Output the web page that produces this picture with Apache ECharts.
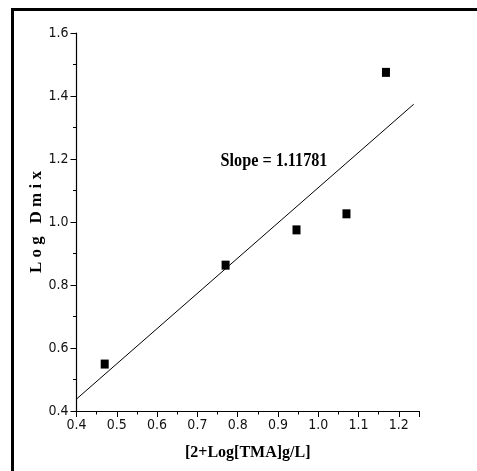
<!DOCTYPE html>
<html>
<head>
<meta charset="utf-8">
<script src="https://cdn.jsdelivr.net/npm/echarts@6/dist/echarts.min.js"></script>
<style>
  html, body { margin: 0; padding: 0; background: #fff; }
  #chart { width: 477px; height: 471px; }
</style>
</head>
<body>
<div id="chart"></div>
<script>
// Measured points: x = 2 + log[TMA] (g/L), y = log Dmix
const xValues = [0.47, 0.77, 0.946, 1.07, 1.168];
const yValues = [0.549, 0.863, 0.975, 1.026, 1.475];

// Least-squares line end points (slope 1.11781)
const fitX = [0.4, 1.237];
const fitY = [0.438, 1.374];

const slopeText = 'Slope = 1.11781';
const xTitle = '[2+Log[TMA]g/L]';
const yTitle = 'L o g   D m i x';

const tickFont = '"Liberation Sans Narrow", "DejaVu Sans Condensed", "Liberation Sans", sans-serif';
const titleFont = '"Liberation Serif", "DejaVu Serif", serif';

const chart = echarts.init(document.getElementById('chart'), null, { renderer: 'canvas' });

const axisCommon = {
  axisLine: { show: true, lineStyle: { color: '#000', width: 1.2 } },
  axisTick: { show: true, inside: false, length: 6, lineStyle: { color: '#000', width: 1 } },
  minorTick: { show: true, splitNumber: 2, length: 3.5, lineStyle: { color: '#000', width: 1 } },
  splitLine: { show: false },
  axisLabel: {
    color: '#111',
    fontFamily: tickFont,
    fontSize: 14,
    formatter: v => v.toFixed(1)
  }
};

chart.setOption({
  animation: false,
  backgroundColor: '#fff',
  grid: { left: 76.5, right: 58, top: 33, bottom: 60 },
  xAxis: Object.assign({}, axisCommon, {
    type: 'value',
    min: 0.4,
    max: 1.25,
    interval: 0.1,
    axisLabel: Object.assign({}, axisCommon.axisLabel, { margin: 7, showMaxLabel: false }),
    name: xTitle,
    nameLocation: 'middle',
    nameGap: 34,
    nameMoveOverlap: false,
    nameTextStyle: { fontFamily: titleFont, fontWeight: 'bold', fontSize: 16, color: '#000' }
  }),
  yAxis: Object.assign({}, axisCommon, {
    type: 'value',
    min: 0.4,
    max: 1.6,
    interval: 0.2,
    axisLabel: Object.assign({}, axisCommon.axisLabel, { margin: 8 }),
    name: yTitle,
    nameLocation: 'middle',
    nameGap: 31,
    nameMoveOverlap: false,
    nameTextStyle: { fontFamily: titleFont, fontWeight: 'bold', fontSize: 17, color: '#000' }
  }),
  series: [
    {
      type: 'line',
      data: fitX.map((x, i) => [x, fitY[i]]),
      showSymbol: false,
      lineStyle: { color: '#000', width: 1 },
      z: 2
    },
    {
      type: 'scatter',
      data: xValues.map((x, i) => [x, yValues[i]]),
      symbol: 'rect',
      symbolSize: [8, 9],
      itemStyle: { color: '#000', opacity: 1 },
      z: 3
    }
  ],
  graphic: [
    // frame lines along the top and left edges
    { type: 'line', shape: { x1: 11, y1: 9.5, x2: 477, y2: 9.5 }, style: { stroke: '#000', lineWidth: 3 } },
    { type: 'line', shape: { x1: 12.5, y1: 8, x2: 12.5, y2: 471 }, style: { stroke: '#000', lineWidth: 3 } },
    {
      type: 'text',
      x: 274,
      y: 161,
      scaleX: 0.9,
      style: {
        text: slopeText,
        fontFamily: titleFont,
        fontWeight: 'bold',
        fontSize: 18,
        fill: '#000',
        textAlign: 'center',
        textVerticalAlign: 'middle'
      }
    }
  ]
});
</script>
</body>
</html>
